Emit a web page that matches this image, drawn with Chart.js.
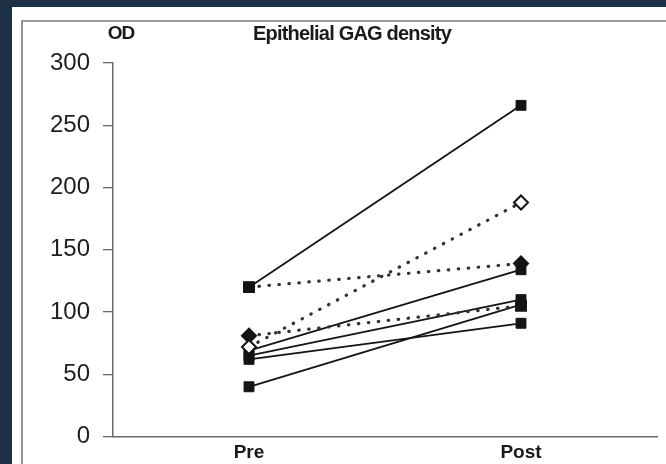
<!DOCTYPE html>
<html>
<head>
<meta charset="utf-8">
<script src="https://cdn.jsdelivr.net/npm/chart.js@4/dist/chart.umd.min.js"></script>
<style>
html,body{margin:0;padding:0;background:#1b2f45;}
#wrap{width:666px;height:464px;}
</style>
</head>
<body>
<div id="wrap"><canvas id="c" width="666" height="464"></canvas></div>
<script>
// ---- data ----
const categories = ["Pre", "Post"];
const yTicks = [0, 50, 100, 150, 200, 250, 300];
const yAxisLabel = "OD";
const chartTitle = "Epithelial GAG density";

const subjA = [120, 266]; // solid
const subjB = [120, 139]; // dotted
const subjC = [72, 188];  // dotted, open diamonds
const subjD = [81, 105];  // dotted
const subjE = [69, 134];  // solid
const subjF = [65, 110];  // solid
const subjG = [62, 91];   // solid
const subjH = [40, 106];  // solid

const INK = '#141414';
const AXIS = '#6a6a6a';

function solid(data) {
  return {
    data, borderColor: INK, borderWidth: 1.8, tension: 0,
    pointStyle: 'rect', pointRadius: 7, pointBackgroundColor: INK,
    pointBorderColor: INK, pointBorderWidth: 1
  };
}
function dotted(data, styles, fills) {
  return {
    data, borderColor: '#333333', borderWidth: 3.2, borderDash: [0.5, 9.5],
    borderCapStyle: 'round', tension: 0,
    pointStyle: styles, pointRadius: 7, pointBackgroundColor: fills,
    pointBorderColor: INK, pointBorderWidth: 2
  };
}

const frame = {
  id: 'frame',
  beforeDraw(chart) {
    const ctx = chart.ctx;
    ctx.save();
    ctx.fillStyle = '#1b2f45';
    ctx.fillRect(0, 0, 666, 464);
    ctx.fillStyle = '#ffffff';
    ctx.fillRect(12, 7, 654, 457);
    ctx.strokeStyle = '#7a7a7a';
    ctx.lineWidth = 1.6;
    ctx.beginPath();
    ctx.moveTo(22, 464); ctx.lineTo(22, 21); ctx.lineTo(666, 21);
    ctx.stroke();
    ctx.restore();
  },
  afterDraw(chart) {
    const ctx = chart.ctx;
    ctx.save();
    ctx.fillStyle = '#1a1a1a';
    ctx.textBaseline = 'middle';
    ctx.textAlign = 'center';
    ctx.font = 'bold 19px "Liberation Sans", Arial, sans-serif';
    try { ctx.letterSpacing = '-1px'; } catch (e) {}
    ctx.fillText(yAxisLabel, 121, 34);
    ctx.font = 'bold 20px "Liberation Sans", Arial, sans-serif';
    try { ctx.letterSpacing = '-0.8px'; } catch (e) {}
    ctx.fillText(chartTitle, 352, 34);
    ctx.restore();
  }
};

new Chart(document.getElementById('c'), {
  type: 'line',
  data: {
    labels: categories,
    datasets: [
      solid(subjA),
      dotted(subjB, ['rect', 'rectRot'], [INK, INK]),
      dotted(subjC, ['rectRot', 'rectRot'], ['#ffffff', '#ffffff']),
      dotted(subjD, ['rectRot', 'rect'], [INK, INK]),
      solid(subjE),
      solid(subjF),
      solid(subjG),
      solid(subjH)
    ]
  },
  options: {
    responsive: false,
    animation: false,
    devicePixelRatio: 1,
    layout: { padding: { top: 63, right: 9, bottom: 0, left: 0 } },
    plugins: { legend: { display: false }, tooltip: { enabled: false }, title: { display: false } },
    scales: {
      x: {
        type: 'category',
        offset: true,
        grid: { display: false, drawTicks: false },
        border: { display: true, color: AXIS, width: 1.5 },
        ticks: {
          padding: 5, color: '#1a1a1a',
          font: { family: '"Liberation Sans", Arial, sans-serif', size: 19, weight: 'bold' }
        },
        afterFit(s) { s.height = 25; }
      },
      y: {
        min: 0, max: 300,
        afterBuildTicks(s) { s.ticks = yTicks.map(v => ({ value: v })); },
        grid: { drawOnChartArea: false, drawTicks: true, tickLength: 10, color: AXIS, lineWidth: 1.3 },
        border: { display: true, color: AXIS, width: 1.5 },
        ticks: {
          padding: 13, color: '#1e1e1e',
          font: { family: '"Liberation Sans", Arial, sans-serif', size: 24 }
        },
        afterFit(s) { s.width = 113; }
      }
    }
  },
  plugins: [frame]
});
</script>
</body>
</html>
